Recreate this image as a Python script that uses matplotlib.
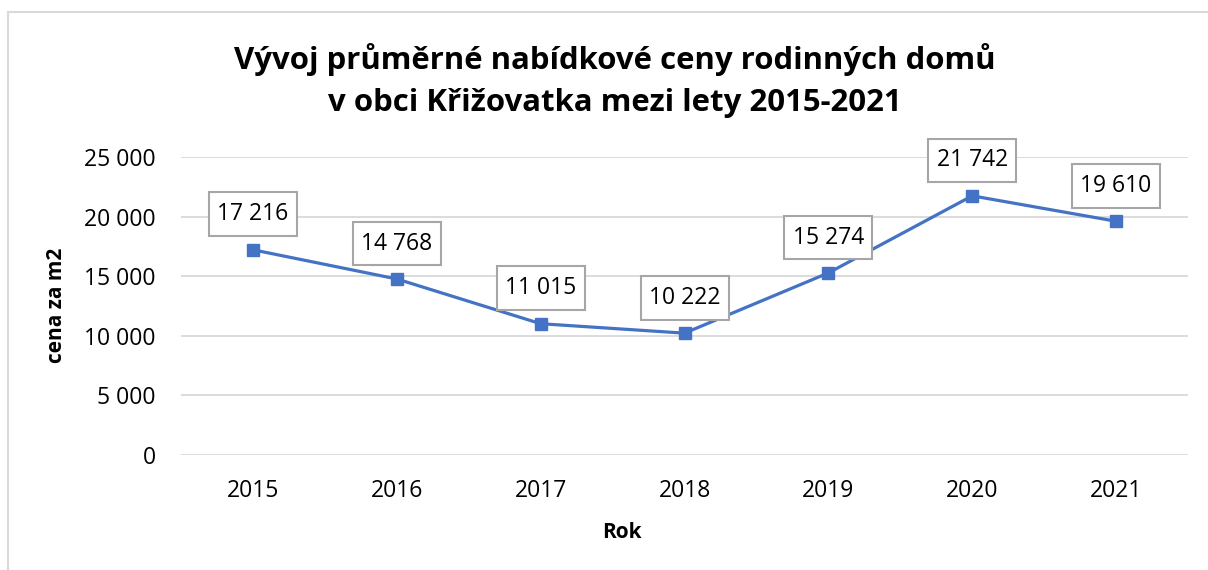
import matplotlib
matplotlib.use("Agg")
import matplotlib.pyplot as plt
from matplotlib.patches import Rectangle

years = ["2015", "2016", "2017", "2018", "2019", "2020", "2021"]
prices = [17216, 14768, 11015, 10222, 15274, 21742, 19610]
yticks = [0, 5000, 10000, 15000, 20000, 25000]
title_lines = ["Vývoj průměrné nabídkové ceny rodinných domů",
               "v obci Křižovatka mezi lety 2015-2021"]
xlabel = "Rok"
ylabel = "cena za m2"

plt.rcParams['font.family'] = ['Open Sans', 'DejaVu Sans']

W, H = 1208, 570
fig = plt.figure(figsize=(W / 100, H / 100), dpi=100)
fig.patch.set_facecolor("white")

# outer chart border
fig.add_artist(Rectangle((8 / W, -0.1), 1.2, 1 - 12 / H + 0.1, transform=fig.transFigure,
                         fill=False, edgecolor="#d9d9d9", linewidth=1.5))

ax = fig.add_axes([181 / W, 1 - 455 / H, (1188 - 181) / W, (455 - 157) / H])
x = list(range(len(years)))
ax.plot(x, prices, color="#4472C4", linewidth=2.3, marker="s", markersize=9, zorder=3)

ax.set_xlim(-0.5, len(years) - 0.5)
ax.set_ylim(0, 25000)
ax.set_yticks(yticks)
ax.set_yticklabels([f"{v:,}".replace(",", " ") for v in yticks])
ax.set_xticks(x)
ax.set_xticklabels(years)
ax.grid(axis="y", color="#d9d9d9", linewidth=1.3)
ax.set_axisbelow(True)
for s in ax.spines.values():
    s.set_visible(False)
ax.tick_params(axis="both", length=0, labelsize=16.5, colors="black")
ax.tick_params(axis="y", pad=18)
ax.tick_params(axis="x", pad=17)

for xi, v in zip(x, prices):
    ax.annotate(f"{v:,}".replace(",", " "), (xi, v), xytext=(0, 25.5), textcoords="offset points",
                ha="center", va="center", fontsize=16.5,
                bbox=dict(boxstyle="square,pad=0.36", facecolor="white", edgecolor="#a6a6a6",
                          linewidth=1.5, mutation_aspect=1.2),
                zorder=4)

fig.text(615 / W, 1 - 60 / H, title_lines[0], ha="center", va="center", fontsize=22.4, fontweight="bold")
fig.text(615 / W, 1 - 103 / H, title_lines[1], ha="center", va="center", fontsize=22.4, fontweight="bold")
fig.text(622 / W, 1 - 532 / H, xlabel, ha="center", va="center", fontsize=15, fontweight="bold")
fig.text(57 / W, 1 - 305 / H, ylabel, ha="center", va="center", fontsize=15, fontweight="bold", rotation=90)

fig.savefig("out.png", dpi=100)
